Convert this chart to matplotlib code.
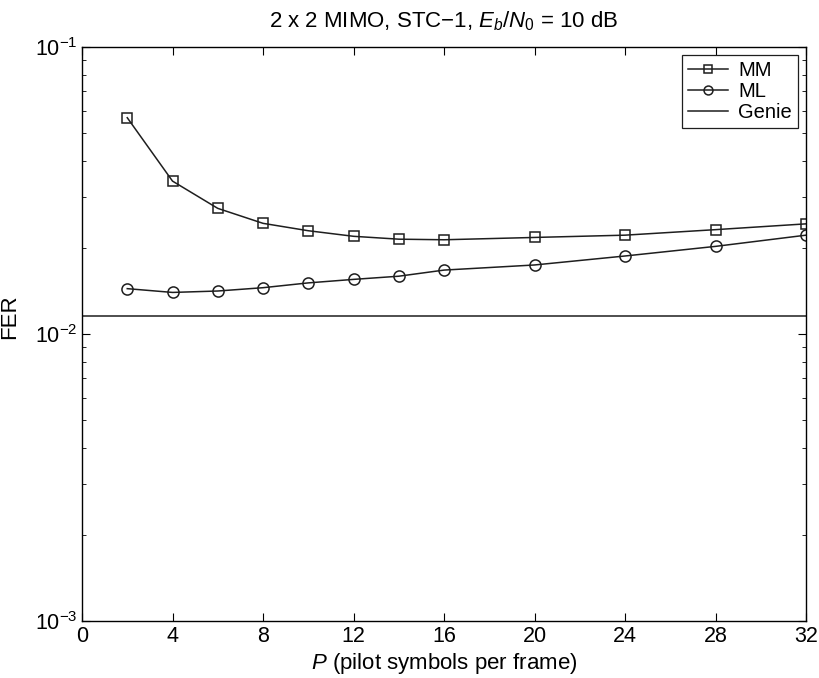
import numpy as np
import matplotlib
matplotlib.use('Agg')
import matplotlib.pyplot as plt
from matplotlib.ticker import LogLocator, NullFormatter

plt.rcParams['font.family'] = ['Liberation Sans', 'DejaVu Sans']
plt.rcParams['mathtext.fontset'] = 'custom'
plt.rcParams['mathtext.rm'] = 'Liberation Sans'
plt.rcParams['mathtext.it'] = 'Liberation Sans:italic'
plt.rcParams['font.size'] = 15

# pilot symbols per frame and frame error rates
pilots = [2, 4, 6, 8, 10, 12, 14, 16, 20, 24, 28, 32]
fer_mm = [0.0567, 0.0341, 0.0274, 0.0243, 0.0229, 0.0219, 0.0214, 0.0213, 0.0217, 0.0221, 0.0231, 0.0242]
fer_ml = [0.01439, 0.01396, 0.01412, 0.01450, 0.01507, 0.0155, 0.0159, 0.0167, 0.0174, 0.0187, 0.0202, 0.0221]
fer_genie = 0.01156

fig = plt.figure(figsize=(8.2, 6.78), dpi=100)
ax = fig.add_axes([0.1, 0.084, 0.883, 0.8467])

ax.semilogy(pilots, fer_mm, '-s', color='#1e1e1e', lw=1.1, ms=7, mfc='none', mew=1.1, label='MM')
ax.semilogy(pilots, fer_ml, '-o', color='#1e1e1e', lw=1.1, ms=8, mfc='none', mew=1.1, label='ML')
ax.axhline(fer_genie, color='#1e1e1e', lw=1.1, label='Genie')

ax.set_xlim(0, 32)
ax.set_ylim(1e-3, 1e-1)
ax.set_xticks(np.arange(0, 33, 4))
ax.yaxis.set_major_locator(LogLocator(base=10, numticks=10))
ax.yaxis.set_minor_locator(LogLocator(base=10, subs=np.arange(2, 10), numticks=10))
ax.yaxis.set_minor_formatter(NullFormatter())
ax.tick_params(which='both', direction='in', top=True, right=True, labelsize=15.5)
ax.tick_params(which='major', length=6)
ax.tick_params(which='minor', length=3)
for s in ax.spines.values():
    s.set_linewidth(1.0)

ax.set_xlabel('$P$ (pilot symbols per frame)', fontsize=16, labelpad=3)
ax.set_ylabel('FER', fontsize=16)
ax.yaxis.set_label_coords(-0.086, 0.53)
ax.set_title('2 x 2 MIMO, STC\u22121, $E_b/N_0$ = 10 dB', fontsize=16, pad=14)

leg = ax.legend(loc='upper right', fancybox=False, edgecolor='#1e1e1e', framealpha=1,
                fontsize=14.5, handlelength=2.0, handletextpad=0.5, borderaxespad=0.4,
                labelspacing=0.1, borderpad=0.3, markerscale=0.8)
leg.get_frame().set_linewidth(0.9)

fig.savefig('out.png', dpi=100)
